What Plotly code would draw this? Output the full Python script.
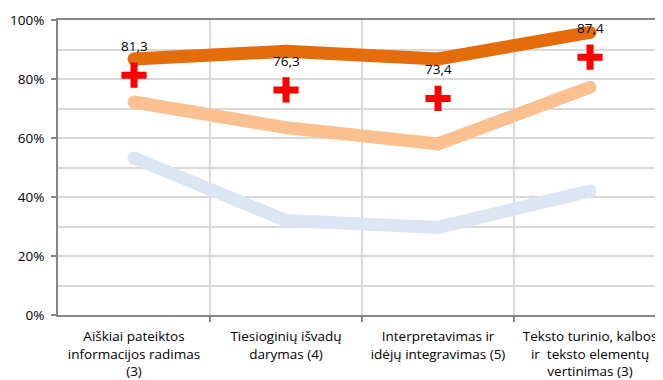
import plotly.graph_objects as go

categories = [
    "Aiškiai pateiktos<br>informacijos radimas<br>(3)",
    "Tiesioginių išvadų<br>darymas (4)",
    "Interpretavimas ir<br>idėjų integravimas (5)",
    "Teksto turinio, kalbos<br>ir  teksto elementų<br>vertinimas (3)",
]
high_series = [86.8, 89.4, 86.8, 95.8]
mid_series = [72.2, 63.5, 58.0, 77.2]
low_series = [53.2, 32.0, 29.7, 42.1]
cross_series = [81.3, 76.3, 73.4, 87.4]
cross_labels = ["81,3", "76,3", "73,4", "87,4"]
y_ticks = [0, 20, 40, 60, 80, 100]
y_tick_text = ["0%", "20%", "40%", "60%", "80%", "100%"]

xs = list(range(len(categories)))
FONT = "Open Sans"
FS = 13.5

fig = go.Figure()
for vals, col in [(low_series, "#DCE6F2"), (mid_series, "#FAC090"), (high_series, "#E46C0A")]:
    fig.add_trace(go.Scatter(x=xs, y=vals, mode="lines+markers",
                             line=dict(color=col, width=13),
                             marker=dict(color=col, size=13, line=dict(width=0)),
                             hoverinfo="skip"))
fig.add_trace(go.Scatter(x=xs, y=cross_series, mode="markers",
                         marker=dict(symbol="cross-thin", color="#FF0000", size=18,
                                     line=dict(width=7, color="#FF0000")),
                         hoverinfo="skip"))

for x, y, t in zip(xs, cross_series, cross_labels):
    fig.add_annotation(x=x, y=y, text=t, showarrow=False, yshift=29,
                       font=dict(family=FONT, size=FS, color="#000000"))

# the page body has an 8px default margin, so the figure is sized to fit the window
fig.update_layout(
    width=655, height=372,
    margin=dict(l=50, r=0, t=12, b=65),
    paper_bgcolor="white", plot_bgcolor="white",
    showlegend=False,
    font=dict(family=FONT, size=FS, color="#000000"),
)
fig.update_xaxes(
    range=[-0.5, 3.48], automargin=False,
    tickmode="array", tickvals=xs, ticktext=categories,
    showgrid=False, ticks="", zeroline=False,
    showline=True, linecolor="#868686", linewidth=2, mirror=True,
    minor=dict(tickvals=[0.5, 1.5, 2.5], showgrid=True, gridcolor="#D9D9D9",
               gridwidth=2, ticks="outside", ticklen=5, tickcolor="#868686",
               tickwidth=1.5),
    ticklabelstandoff=8,
    tickfont=dict(family=FONT, size=FS),
)
fig.update_yaxes(
    range=[0, 100], automargin=False,
    tickmode="array", tickvals=y_ticks, ticktext=y_tick_text,
    showgrid=True, gridcolor="#D9D9D9", gridwidth=2,
    ticks="outside", ticklen=5, tickcolor="#868686", tickwidth=1.5,
    showline=True, linecolor="#868686", linewidth=2, zeroline=False,
    minor=dict(tickvals=[10, 30, 50, 70, 90], showgrid=True,
               gridcolor="#D9D9D9", gridwidth=2),
    ticklabelstandoff=4,
    tickfont=dict(family=FONT, size=FS),
)

fig.write_html("out.html")
